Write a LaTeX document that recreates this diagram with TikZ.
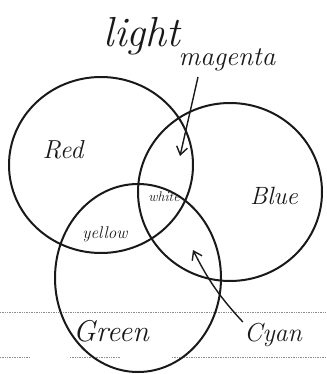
\documentclass[tikz,border=0pt]{standalone}
\usepackage{fontspec}
\usepackage{tikz}
\usetikzlibrary{arrows.meta,positioning,shapes.geometric}
\definecolor{penInk}{RGB}{25, 25, 25}
\definecolor{paperRule}{RGB}{140, 140, 140}

\begin{document}
\begin{tikzpicture}[x=1pt, y=1pt,
    ring/.style={ellipse, draw=penInk, line width=2pt, inner sep=0pt},
    hand/.style={text=penInk, inner sep=1pt},
    pointer/.style={draw=penInk, line width=1.4pt, -{Straight Barb[length=8pt, width=11pt]}}]
    \useasboundingbox (0,0) rectangle (326,-374);
    % ruled lines of the sheet
    \draw[paperRule, densely dotted, line width=0.7pt] (0,-312) -- (326,-312);
    \draw[paperRule, densely dotted, line width=0.7pt] (0,-357) -- (30,-357);
    \draw[paperRule, densely dotted, line width=0.7pt] (70,-357) -- (120,-357);
    \draw[paperRule, densely dotted, line width=0.7pt] (172,-357) -- (326,-357);
    % the three lights
    \node[ring, minimum width=184pt, minimum height=176pt] (red) at (101,-165) {};
    \node[ring, minimum width=184pt, minimum height=178pt] (blue) at (230,-192) {};
    \node[ring, minimum width=166pt, minimum height=188pt] (green) at (138,-278) {};
    % labels
    \node[hand, font=\itshape\fontsize{42}{42}\selectfont] (light) at (142,-36) {light};
    \node[hand, font=\itshape\fontsize{27}{27}\selectfont] (magenta) at (227,-60) {magenta};
    \node[hand, font=\itshape\fontsize{26}{26}\selectfont] (redlab) at (63,-150) {Red};
    \node[hand, font=\itshape\fontsize{25}{25}\selectfont] (bluelab) at (274,-196) {Blue};
    \node[hand, font=\itshape\fontsize{14}{14}\selectfont] (white) at (164,-197) {white};
    \node[hand, font=\itshape\fontsize{17}{17}\selectfont] (yellow) at (105,-234) {yellow};
    \node[hand, font=\itshape\fontsize{30}{30}\selectfont] (greenlab) at (111,-331) {Green};
    \node[hand, font=\itshape\fontsize{26}{26}\selectfont] (cyan) at (273,-335) {Cyan};
    % pointers
    \coordinate (magfoot) at (198,-77);
    \coordinate (magtip) at (180,-156);
    \coordinate (cyantip) at (193,-250);
    \draw[pointer] (magfoot) -- (magtip);
    \draw[pointer] (cyan.north west) to[bend left=8] (cyantip);
\end{tikzpicture}
\end{document}
